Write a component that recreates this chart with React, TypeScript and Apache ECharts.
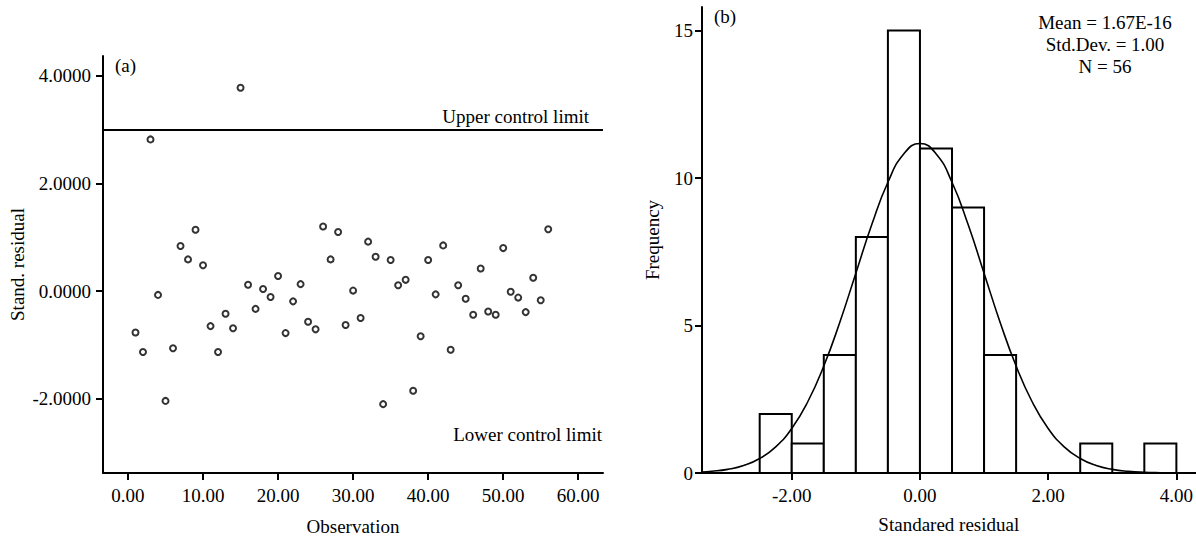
import React, { useEffect, useRef } from "react";
import * as echarts from "echarts";

// (a) standardized residuals per observation
const residuals = [
  -0.77, -1.13, 2.82, -0.07, -2.04, -1.06, 0.84, 0.59, 1.14, 0.48,
  -0.65, -1.13, -0.42, -0.69, 3.78, 0.12, -0.33, 0.04, -0.11, 0.28,
  -0.78, -0.19, 0.13, -0.57, -0.71, 1.2, 0.59, 1.1, -0.63, 0.01,
  -0.5, 0.92, 0.64, -2.1, 0.58, 0.11, 0.21, -1.85, -0.84, 0.58,
  -0.06, 0.85, -1.09, 0.11, -0.14, -0.44, 0.42, -0.38, -0.44, 0.8,
  -0.01, -0.12, -0.39, 0.25, -0.17, 1.15,
];
const observations = residuals.map((_, i) => i + 1);
const upperLimit = 3;
const lowerLimit = -3;
const leftXTicks = [0, 10, 20, 30, 40, 50, 60];
const leftYTicks = [-2, 0, 2, 4];

// (b) histogram
const binStarts = [-2.5, -2, -1.5, -1, -0.5, 0, 0.5, 1, 1.5, 2, 2.5, 3, 3.5];
const binWidth = 0.5;
const binCounts = [2, 1, 4, 8, 15, 11, 9, 4, 0, 0, 1, 0, 1];
const curveX = [
  -3.4, -3.25, -3, -2.75, -2.5, -2.25, -2, -1.75, -1.5, -1.25, -1, -0.75, -0.5, -0.25, 0,
  0.25, 0.5, 0.75, 1, 1.25, 1.5, 1.75, 2, 2.25, 2.5, 2.75, 3, 3.25, 3.5, 3.75, 4,
];
const curveY = [
  0.034, 0.057, 0.124, 0.254, 0.49, 0.888, 1.511, 2.416, 3.627, 5.112, 6.775, 8.431, 9.859, 10.827, 11.17,
  10.827, 9.859, 8.431, 6.775, 5.112, 3.627, 2.416, 1.511, 0.888, 0.49, 0.254, 0.124, 0.057, 0.024, 0.01, 0.004,
];
const rightXTicks = [-2, 0, 2, 4];
const rightYTicks = [0, 5, 10, 15];
const statsLines = ["Mean = 1.67E-16", "Std.Dev. = 1.00", "N = 56"];

const FONT = "'Liberation Serif', 'Times New Roman', serif";
const FS = 19;

export default function App() {
  const ref = useRef<HTMLDivElement>(null);
  useEffect(() => {
    document.body.style.margin = "0";
    if (!ref.current) return;
    const chart = echarts.init(ref.current, undefined, { renderer: "svg" });
    const axisLine = { show: true, onZero: false, lineStyle: { color: "#000", width: 2 } };
    const axisTick = (vals: number[]) => ({
      show: true,
      length: 7,
      lineStyle: { color: "#000", width: 2 },
      customValues: vals,
    });
    const label = (vals: number[], digits: number, margin: number) => ({
      show: true,
      color: "#000",
      fontFamily: FONT,
      fontSize: FS,
      margin,
      customValues: vals,
      formatter: (v: number) => Number(v).toFixed(digits),
    });
    const nameStyle = { color: "#000", fontFamily: FONT, fontSize: FS };

    const scatterData = observations.map((o, i) => [o, residuals[i]]);
    const bins = binStarts
      .map((s, i) => [s, s + binWidth, binCounts[i]])
      .filter((b) => b[2] > 0);
    const curve = curveX.map((x, i) => [x, curveY[i]]);

    chart.setOption({
      animation: false,
      backgroundColor: "#fff",
      textStyle: { fontFamily: FONT },
      grid: [
        { left: 103, top: 56, right: 593, bottom: 69, containLabel: false },
        { left: 702, top: 7, right: 0, bottom: 69, containLabel: false },
      ],
      xAxis: [
        {
          type: "value",
          gridIndex: 0,
          min: -3.33,
          max: 63.3,
          axisLine,
          axisTick: axisTick(leftXTicks),
          axisLabel: label(leftXTicks, 2, 13),
          splitLine: { show: false },
          name: "Observation",
          nameLocation: "middle",
          nameGap: 44,
          nameTextStyle: nameStyle,
        },
        {
          type: "value",
          gridIndex: 1,
          min: -3.4,
          max: 4.3,
          axisLine,
          axisTick: axisTick(rightXTicks),
          axisLabel: label(rightXTicks, 2, 13),
          splitLine: { show: false },
          name: "Standared residual",
          nameLocation: "middle",
          nameGap: 42,
          nameTextStyle: nameStyle,
        },
      ],
      yAxis: [
        {
          type: "value",
          gridIndex: 0,
          min: -3.38,
          max: 4.37,
          axisLine,
          axisTick: axisTick(leftYTicks),
          axisLabel: label(leftYTicks, 4, 12),
          splitLine: { show: false },
          name: "Stand. residual",
          nameLocation: "middle",
          nameGap: 76,
          nameTextStyle: nameStyle,
        },
        {
          type: "value",
          gridIndex: 1,
          min: 0,
          max: 15.8,
          axisLine,
          axisTick: axisTick(rightYTicks),
          axisLabel: label(rightYTicks, 0, 9),
          splitLine: { show: false },
          name: "Frequency",
          nameLocation: "middle",
          nameGap: 40,
          nameTextStyle: nameStyle,
        },
      ],
      series: [
        {
          type: "scatter",
          xAxisIndex: 0,
          yAxisIndex: 0,
          data: scatterData,
          symbol: "circle",
          symbolSize: 6,
          itemStyle: { color: "#fff", borderColor: "#000", borderWidth: 2 },
          silent: true,
          markLine: {
            silent: true,
            symbol: "none",
            animation: false,
            lineStyle: { color: "#000", width: 2, type: "solid" },
            label: {
              show: true,
              position: "insideEndTop",
              color: "#000",
              fontFamily: FONT,
              fontSize: FS,
            },
            data: [
              {
                yAxis: upperLimit,
                label: { formatter: "Upper control limit", distance: [14, 4] },
              },
              {
                yAxis: lowerLimit,
                lineStyle: { color: "rgba(0,0,0,0)", width: 0 },
                label: { formatter: "Lower control limit", distance: [1, 9] },
              },
            ],
          },
        },
        {
          type: "custom",
          xAxisIndex: 1,
          yAxisIndex: 1,
          data: bins,
          silent: true,
          renderItem: (params: any, api: any) => {
            const p0 = api.coord([api.value(0), api.value(2)]);
            const p1 = api.coord([api.value(1), 0]);
            return {
              type: "rect",
              shape: { x: p0[0], y: p0[1], width: p1[0] - p0[0], height: p1[1] - p0[1] },
              style: { fill: "#fff", stroke: "#000", lineWidth: 2 },
            };
          },
        },
        {
          type: "line",
          xAxisIndex: 1,
          yAxisIndex: 1,
          data: curve,
          smooth: true,
          showSymbol: false,
          symbol: "none",
          silent: true,
          lineStyle: { color: "#000", width: 1.6 },
          z: 5,
        },
      ],
      graphic: [
        {
          type: "text",
          left: 115,
          top: 56,
          style: { text: "(a)", font: `${FS}px ${FONT}`, fill: "#000" },
        },
        {
          type: "text",
          left: 714,
          top: 7,
          style: { text: "(b)", font: `${FS}px ${FONT}`, fill: "#000" },
        },
        ...statsLines.map((t, i) => ({
          type: "text",
          x: 1105,
          y: 13 + i * 22,
          style: {
            text: t,
            font: `${FS}px ${FONT}`,
            fill: "#000",
            textAlign: "center",
            textVerticalAlign: "top",
          },
        })),
      ],
    });
    return () => chart.dispose();
  }, []);
  return <div ref={ref} style={{ width: 1196, height: 542 }} />;
}
